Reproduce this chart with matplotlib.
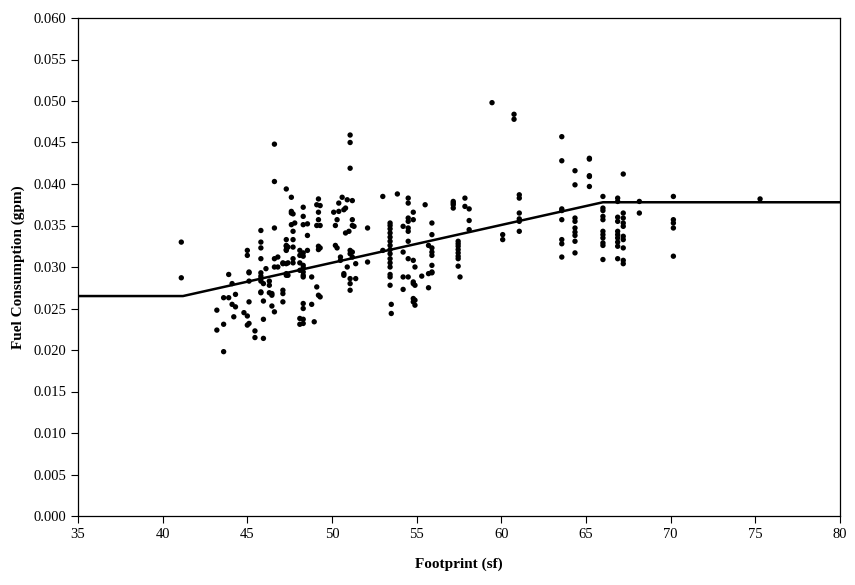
import matplotlib
matplotlib.use("Agg")
import matplotlib.pyplot as plt
from matplotlib.ticker import FormatStrFormatter, MultipleLocator

# Scatter data grouped by footprint column: (footprint, [fuel consumption values])
columns = [
    (41.1, [0.0330, 0.0287]),
    (43.2, [0.0248, 0.0224]),
    (43.6, [0.0263, 0.0231, 0.0198]),
    (43.9, [0.0291, 0.0263]),
    (44.1, [0.0280, 0.0255]),
    (44.2, [0.0240]),
    (44.3, [0.0267, 0.0252]),
    (44.8, [0.0245]),
    (45.0, [0.0320, 0.0314, 0.0241, 0.0230]),
    (45.1, [0.0294, 0.0258, 0.0283, 0.0293, 0.0232]),
    (45.45, [0.0223, 0.0215]),
    (45.8, [0.0344, 0.0330, 0.0323, 0.0310, 0.0293, 0.0289, 0.0286, 0.0283, 0.0270, 0.0269]),
    (45.95, [0.0280, 0.0259, 0.0237, 0.0214]),
    (46.1, [0.0298]),
    (46.3, [0.0283, 0.0278, 0.0269]),
    (46.45, [0.0266, 0.0253, 0.0268]),
    (46.6, [0.0448, 0.0403, 0.0347, 0.0310, 0.0246, 0.0300]),
    (46.8, [0.0300, 0.0312]),
    (47.1, [0.0304, 0.0305, 0.0272, 0.0268, 0.0258]),
    (47.3, [0.0394, 0.0333, 0.0325, 0.0321, 0.0326, 0.0320, 0.0292, 0.0290, 0.0304]),
    (47.4, [0.0324, 0.0305, 0.0290]),
    (47.6, [0.0384, 0.0367, 0.0365, 0.0351]),
    (47.7, [0.0364, 0.0343, 0.0333, 0.0324, 0.0310, 0.0305]),
    (47.8, [0.0353]),
    (48.1, [0.0320, 0.0314, 0.0238, 0.0231, 0.0305, 0.0296]),
    (48.3, [0.0372, 0.0361, 0.0351, 0.0317, 0.0313, 0.0302, 0.0299, 0.0294,
            0.0290, 0.0288, 0.0256, 0.0250, 0.0237, 0.0232]),
    (48.55, [0.0352, 0.0338, 0.0320]),
    (48.8, [0.0288, 0.0255]),
    (48.95, [0.0234]),
    (49.1, [0.0375, 0.0350, 0.0276]),
    (49.2, [0.0382, 0.0366, 0.0357, 0.0325, 0.0321, 0.0266]),
    (49.3, [0.0374, 0.0350, 0.0323, 0.0264]),
    (50.1, [0.0366]),
    (50.2, [0.0350, 0.0326]),
    (50.3, [0.0357, 0.0323]),
    (50.4, [0.0367, 0.0377]),
    (50.5, [0.0312, 0.0308]),
    (50.6, [0.0384]),
    (50.7, [0.0369, 0.0292, 0.0290]),
    (50.8, [0.0371, 0.0341]),
    (50.9, [0.0381, 0.0300]),
    (51.0, [0.0343]),
    (51.07, [0.0459, 0.0450, 0.0419, 0.0320, 0.0316, 0.0286, 0.0280, 0.0272]),
    (51.2, [0.0380, 0.0357, 0.0350, 0.0318, 0.0312]),
    (51.3, [0.0349]),
    (51.4, [0.0304, 0.0286]),
    (52.1, [0.0347, 0.0306]),
    (53.0, [0.0385, 0.0320]),
    (53.43, [0.0353, 0.0350, 0.0346, 0.0341, 0.0336, 0.0331, 0.0326, 0.0321,
             0.0316, 0.0310, 0.0305, 0.0300, 0.0291, 0.0288, 0.0278]),
    (53.5, [0.0255, 0.0244]),
    (53.86, [0.0388]),
    (54.2, [0.0349, 0.0318, 0.0288, 0.0273]),
    (54.5, [0.0383, 0.0377, 0.0359, 0.0355, 0.0347, 0.0343, 0.0331, 0.0310, 0.0288]),
    (54.8, [0.0366, 0.0357, 0.0308, 0.0282, 0.0280, 0.0262, 0.0258]),
    (54.9, [0.0300, 0.0278, 0.0260, 0.0254]),
    (55.3, [0.0289]),
    (55.5, [0.0375]),
    (55.7, [0.0326, 0.0292, 0.0275]),
    (55.9, [0.0353, 0.0339, 0.0323, 0.0318, 0.0314, 0.0302, 0.0294, 0.0293]),
    (57.16, [0.0379, 0.0377, 0.0375, 0.0371]),
    (57.45, [0.0331, 0.0328, 0.0325, 0.0321, 0.0317, 0.0313, 0.0310, 0.0301]),
    (57.56, [0.0288]),
    (57.85, [0.0383, 0.0373]),
    (58.1, [0.0370, 0.0356, 0.0345]),
    (59.45, [0.0498]),
    (60.08, [0.0339, 0.0333]),
    (60.75, [0.0484, 0.0478]),
    (61.06, [0.0387, 0.0383, 0.0365, 0.0358, 0.0355, 0.0343]),
    (63.57, [0.0457, 0.0428, 0.0370, 0.0368, 0.0357, 0.0333, 0.0328, 0.0312]),
    (64.35, [0.0416, 0.0399, 0.0359, 0.0355, 0.0347, 0.0342, 0.0338, 0.0331, 0.0317]),
    (65.2, [0.0431, 0.0430, 0.0410, 0.0409, 0.0397]),
    (66.0, [0.0385, 0.0371, 0.0368, 0.0361, 0.0357, 0.0343, 0.0339, 0.0335,
            0.0329, 0.0326, 0.0309]),
    (66.87, [0.0383, 0.0379, 0.0360, 0.0355, 0.0343, 0.0339, 0.0335, 0.0330, 0.0325, 0.0310]),
    (67.2, [0.0412, 0.0365, 0.0359, 0.0353, 0.0349, 0.0337, 0.0333, 0.0323, 0.0308, 0.0304]),
    (68.15, [0.0379, 0.0365]),
    (70.16, [0.0385, 0.0357, 0.0353, 0.0347, 0.0313]),
    (75.28, [0.0382]),
]

# Target curve (piecewise linear)
line_x = [35, 41.2, 66.0, 80]
line_y = [0.0265, 0.0265, 0.0378, 0.0378]

xs = [c[0] for c in columns for _ in c[1]]
ys = [v for c in columns for v in c[1]]

plt.rcParams['font.family'] = ['Liberation Serif', 'DejaVu Serif']

fig = plt.figure(figsize=(8.55, 5.85), dpi=100)
ax = fig.add_axes([78 / 855, 1 - 516 / 585, (840 - 78) / 855, (516 - 18) / 585])

ax.scatter(xs, ys, s=15, c='black', edgecolors='none', zorder=3)
ax.plot(line_x, line_y, color='black', linewidth=1.8, zorder=2)

ax.set_xlim(35, 80)
ax.set_ylim(0, 0.060)
ax.xaxis.set_major_locator(MultipleLocator(5))
ax.yaxis.set_major_locator(MultipleLocator(0.005))
ax.yaxis.set_major_formatter(FormatStrFormatter('%.3f'))
ax.tick_params(direction='out', length=5, width=0.8, labelsize=10.5, colors='black')
for s in ax.spines.values():
    s.set_linewidth(0.9)
    s.set_color('black')

ax.set_xlabel('Footprint (sf)', fontsize=11, fontweight='bold', labelpad=12)
ax.set_ylabel('Fuel Consumption (gpm)', fontsize=11, fontweight='bold', labelpad=6)

fig.savefig('out.png', dpi=100)
